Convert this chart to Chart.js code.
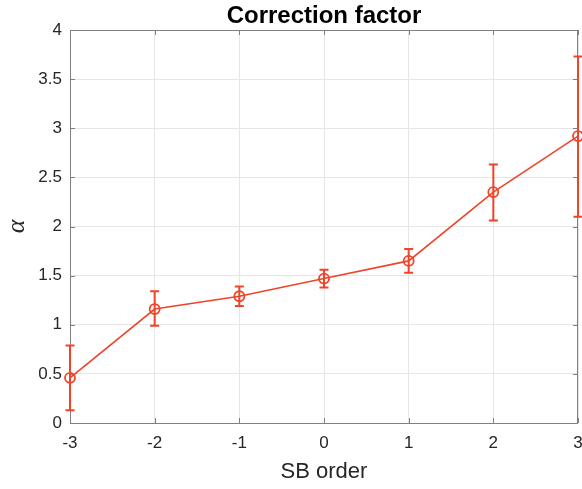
<!DOCTYPE html>
<html>
<head>
<meta charset="utf-8">
<script src="https://cdn.jsdelivr.net/npm/chart.js@4.4.0/dist/chart.umd.min.js"></script>
<style>
    html, body { margin: 0; padding: 0; background: #ffffff; }
</style>
</head>
<body>
<canvas id="factorChart" width="582" height="489"></canvas>
<script>
// SB order vs. correction factor, with lower/upper error limits
const sbOrders = [-3, -2, -1, 0, 1, 2, 3];
const alphaValues = [0.46, 1.16, 1.29, 1.47, 1.65, 2.35, 2.92];
const alphaUpper = [0.79, 1.34, 1.39, 1.56, 1.77, 2.63, 3.73];
const alphaLower = [0.13, 0.99, 1.19, 1.38, 1.53, 2.06, 2.10];

const lineColor = '#ef4429';
const axisColor = '#808080';
const textColor = '#262626';
const sansFont = "'Liberation Sans', Arial, sans-serif";

// vertical error bars with caps
const errorBars = {
    id: 'errorBars',
    afterDatasetsDraw(chart) {
        const { ctx, scales: { x, y } } = chart;
        ctx.save();
        ctx.strokeStyle = lineColor;
        ctx.lineWidth = 2;
        sbOrders.forEach((order, i) => {
            const px = x.getPixelForValue(order);
            const top = y.getPixelForValue(alphaUpper[i]);
            const bottom = y.getPixelForValue(alphaLower[i]);
            ctx.beginPath();
            ctx.moveTo(px, top);
            ctx.lineTo(px, bottom);
            ctx.moveTo(px - 4.5, top);
            ctx.lineTo(px + 4.5, top);
            ctx.moveTo(px - 4.5, bottom);
            ctx.lineTo(px + 4.5, bottom);
            ctx.stroke();
        });
        ctx.restore();
    }
};

// box around the plot with inward tick marks on all four sides
const axesBox = {
    id: 'axesBox',
    beforeDatasetsDraw(chart) {
        const { ctx, chartArea: a, scales: { x, y } } = chart;
        const len = 5;
        ctx.save();
        ctx.strokeStyle = axisColor;
        ctx.lineWidth = 1;
        ctx.strokeRect(a.left + 0.5, a.top + 0.5, a.right - a.left - 1, a.bottom - a.top);
        ctx.beginPath();
        x.ticks.forEach(t => {
            const px = Math.round(x.getPixelForValue(t.value)) + 0.5;
            ctx.moveTo(px, a.bottom);
            ctx.lineTo(px, a.bottom - len);
            ctx.moveTo(px, a.top);
            ctx.lineTo(px, a.top + len);
        });
        y.ticks.forEach(t => {
            const py = Math.round(y.getPixelForValue(t.value)) + 0.5;
            ctx.moveTo(a.left, py);
            ctx.lineTo(a.left + len, py);
            ctx.moveTo(a.right, py);
            ctx.lineTo(a.right - len, py);
        });
        ctx.stroke();
        ctx.restore();
    }
};

const ctx = document.getElementById('factorChart').getContext('2d');

new Chart(ctx, {
    type: 'line',
    data: {
        datasets: [{
            data: sbOrders.map((order, i) => ({ x: order, y: alphaValues[i] })),
            borderColor: lineColor,
            borderWidth: 1.6,
            pointRadius: 5,
            pointBorderWidth: 1.8,
            pointBorderColor: lineColor,
            pointBackgroundColor: 'rgba(0,0,0,0)',
            tension: 0,
            clip: false
        }]
    },
    options: {
        responsive: false,
        animation: false,
        layout: { autoPadding: false, padding: { left: 0, right: 4, top: 0, bottom: 0 } },
        plugins: {
            legend: { display: false },
            tooltip: { enabled: false }
        },
        scales: {
            x: {
                type: 'linear',
                min: -3,
                max: 3,
                ticks: {
                    stepSize: 1,
                    padding: 10,
                    color: textColor,
                    font: { family: sansFont, size: 17 },
                    callback: v => String(v)
                },
                grid: { color: '#e6e6e6', drawTicks: false },
                border: { display: false },
                title: {
                    display: true,
                    text: 'SB order',
                    color: textColor,
                    font: { family: sansFont, size: 22 },
                    padding: { top: 0, bottom: 4 }
                },
                afterFit(scale) {
                    scale.height = 66;
                    scale.paddingLeft = 0;
                    scale.paddingRight = 0;
                }
            },
            y: {
                min: 0,
                max: 4,
                ticks: {
                    stepSize: 0.5,
                    padding: 8,
                    color: textColor,
                    font: { family: sansFont, size: 17 },
                    callback: v => String(v)
                },
                grid: { color: '#e6e6e6', drawTicks: false },
                border: { display: false },
                title: {
                    display: true,
                    text: 'α',
                    color: textColor,
                    font: { family: "'Liberation Serif', serif", size: 26, style: 'italic' },
                    padding: { top: 2, bottom: 0 }
                },
                afterFit(scale) {
                    scale.width = 70;
                    scale.paddingTop = 0;
                    scale.paddingBottom = 0;
                }
            },
            top: {
                type: 'linear',
                position: 'top',
                min: -3,
                max: 3,
                ticks: { display: false },
                grid: { display: false, drawTicks: false },
                border: { display: false },
                title: {
                    display: true,
                    text: 'Correction factor',
                    color: '#000000',
                    font: { family: sansFont, size: 24, weight: 'bold' },
                    padding: { top: 2, bottom: 0 }
                },
                afterFit(scale) {
                    scale.height = 30;
                    scale.paddingLeft = 0;
                    scale.paddingRight = 0;
                }
            }
        }
    },
    plugins: [axesBox, errorBars]
});
</script>
</body>
</html>
